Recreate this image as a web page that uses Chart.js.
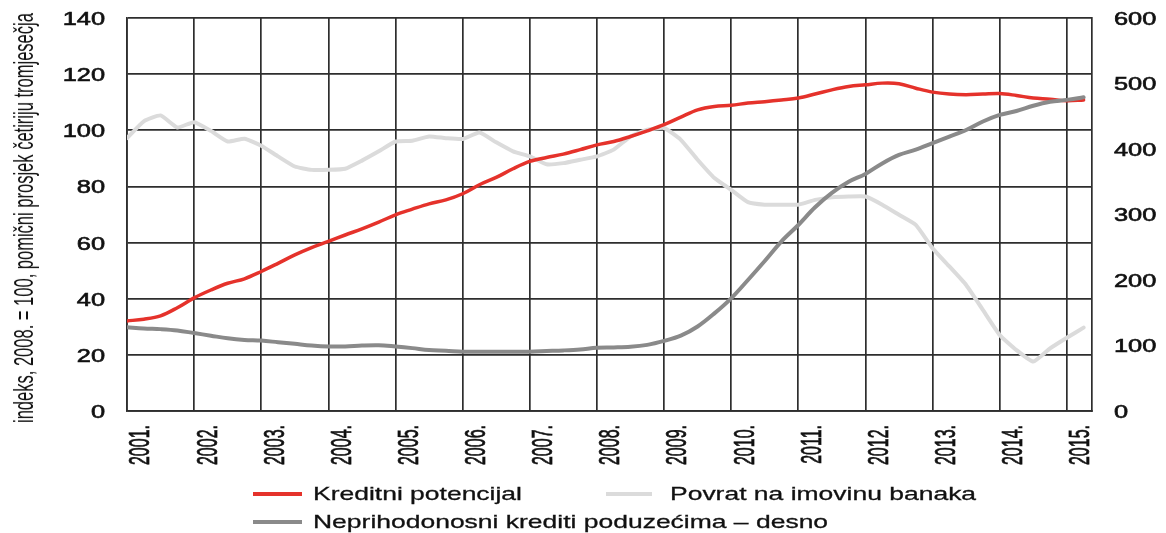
<!DOCTYPE html>
<html lang="hr">
<head>
    <meta charset="UTF-8">
    <title>Kreditni potencijal</title>
    <script src="https://cdn.jsdelivr.net/npm/chart.js"></script>
    <style>
        body {
            margin: 0;
            background: #fff;
        }
        #wrap {
            position: relative;
            width: 1166px;
            height: 533px;
        }
        #ytitle {
            position: absolute;
            left: 25px;
            top: 218px;
            white-space: nowrap;
            font-family: "Liberation Sans", Arial, sans-serif;
            font-size: 17px;
            line-height: 20px;
            color: #111;
        }
        .swatch {
            position: absolute;
            height: 4px;
        }
        .label {
            position: absolute;
            white-space: nowrap;
            font-family: "Liberation Sans", Arial, sans-serif;
            font-size: 19px;
            line-height: 22px;
            color: #111;
            -webkit-text-stroke: 0.3px #111;
            transform-origin: left center;
        }
    </style>
</head>
<body>
<div id="wrap">
    <canvas id="chart" width="1166" height="533"></canvas>
    <div id="ytitle"></div>
</div>

<script>
    // quarterly data, 2001 Q1 .. 2015 Q2
    const firstYear = 2001;

    const kreditniPotencijal = [
        32.1, 32.7, 33.9, 36.8,
        40.3, 43.1, 45.5, 47.1,
        49.7, 52.6, 55.6, 58.2,
        60.4, 62.7, 64.9, 67.3,
        69.9, 71.9, 73.8, 75.2,
        77.4, 80.6, 83.2, 86.3,
        88.9, 90.3, 91.5, 93.1,
        94.8, 96.0, 97.8, 99.8,
        102.0, 104.7, 107.3, 108.5,
        108.9, 109.7, 110.2, 110.8,
        111.5, 112.9, 114.4, 115.6,
        116.2, 116.8, 116.6, 115.0,
        113.6, 112.9, 112.7, 112.9,
        113.1, 112.4, 111.5, 111.1,
        110.5, 110.8
    ];

    const povratNaImovinu = [
        97.2, 103.2, 105.3, 101.0,
        102.9, 99.8, 96.0, 97.0,
        94.5, 90.7, 87.1, 85.9,
        85.9, 86.3, 89.2, 92.5,
        96.0, 96.3, 97.8, 97.2,
        96.9, 99.2, 95.7, 92.5,
        90.7, 87.9, 88.3, 89.5,
        90.7, 93.1, 97.8, 100.2,
        100.8, 96.6, 89.5, 83.0,
        78.8, 74.4, 73.5, 73.5,
        73.5, 75.2, 76.1, 76.4,
        76.4, 73.5, 69.9, 66.3,
        58.0, 51.5, 44.9, 36.0,
        27.1, 21.7, 17.6, 22.3,
        26.1, 29.7
    ];

    const neprihodonosni = [
        128, 126, 125, 123,
        119, 115, 111, 108.5,
        107.5, 105, 102.5, 100,
        98.5, 98.5, 100, 100.5,
        98.5, 96, 93, 92,
        90.5, 90.5, 90.5, 90.5,
        90.5, 91.5, 92.5, 94,
        96.5, 97, 98, 101,
        107, 115, 129, 149,
        172, 200, 229, 259,
        284, 311, 333, 350,
        362, 378, 391, 399,
        409, 419, 429, 442,
        452, 458, 466, 472,
        475, 479
    ];

    const yTitle = 'indeks, 2008. = 100, pomični prosjek četiriju tromjesečja';
    const labels = ['Kreditni potencijal', 'Povrat na imovinu banaka', 'Neprihodonosni krediti poduzećima – desno'];
    const colors = ['#e5322b', '#dbdbdb', '#8a8a8a'];

    const toPoints = arr => arr.map((v, i) => ({ x: firstYear + i / 4, y: v }));

    const gridColor = '#2e2e2e';

    // the original has wide, stretched tick digits, so the labels are drawn
    // from the scales' own ticks with a horizontal stretch
    function stretchedText(ctx, text) {
        ctx.fillText(text, 0, 0);
        ctx.strokeText(text, 0, 0);
    }

    const stretchedTicks = {
        id: 'stretchedTicks',
        afterDraw(chart) {
            const ctx = chart.ctx;
            const { x, y, y1 } = chart.scales;
            ctx.save();
            ctx.fillStyle = '#111';
            ctx.strokeStyle = '#111';
            ctx.lineWidth = 0.6;
            ctx.textBaseline = 'middle';
            ctx.font = "18px 'Liberation Sans', Arial, sans-serif";
            [[y, 'right', y.right - 22], [y1, 'left', y1.left + 22]].forEach(([s, align, px]) => {
                ctx.textAlign = align;
                s.ticks.forEach(t => {
                    ctx.save();
                    ctx.translate(px, s.getPixelForValue(t.value) + 2);
                    ctx.scale(1.41, 1);
                    stretchedText(ctx, String(t.value));
                    ctx.restore();
                });
            });
            ctx.font = "16px 'Liberation Sans', Arial, sans-serif";
            ctx.textAlign = 'right';
            ctx.lineWidth = 0.4;
            x.ticks.forEach(t => {
                ctx.save();
                ctx.translate(x.getPixelForValue(t.value) + 14, x.top + 14);
                ctx.rotate(-Math.PI / 2);
                ctx.scale(1, 1.9);
                stretchedText(ctx, t.value + '.');
                ctx.restore();
            });
            ctx.restore();
        }
    };

    new Chart(document.getElementById('chart'), {
        type: 'line',
        data: {
            datasets: [
                {
                    label: labels[0],
                    data: toPoints(kreditniPotencijal),
                    borderColor: colors[0],
                    borderWidth: 3.5,
                    tension: 0.35,
                    yAxisID: 'y',
                    order: 2
                },
                {
                    label: labels[1],
                    data: toPoints(povratNaImovinu),
                    borderColor: colors[1],
                    borderWidth: 4,
                    tension: 0.15,
                    yAxisID: 'y',
                    order: 3
                },
                {
                    label: labels[2],
                    data: toPoints(neprihodonosni),
                    borderColor: colors[2],
                    borderWidth: 4,
                    tension: 0.35,
                    yAxisID: 'y1',
                    order: 1
                }
            ]
        },
        options: {
            responsive: false,
            animation: false,
            elements: {
                point: { radius: 0 },
                line: { borderCapStyle: 'round', borderJoinStyle: 'round' }
            },
            layout: { padding: { top: 18, left: 0, right: 0, bottom: 0 } },
            plugins: {
                legend: { display: false },
                tooltip: { enabled: false }
            },
            scales: {
                x: {
                    type: 'linear',
                    min: 2001,
                    max: 2015.375,
                    afterFit: s => { s.height = 122; },
                    ticks: { stepSize: 1, includeBounds: false, autoSkip: false, display: false },
                    grid: { color: gridColor, lineWidth: 1.7, drawTicks: false },
                    border: { color: gridColor, width: 1.7 }
                },
                y: {
                    position: 'left',
                    min: 0,
                    max: 140,
                    afterFit: s => { s.width = 127; },
                    ticks: { stepSize: 20, display: false },
                    grid: { color: gridColor, lineWidth: 1.7, drawTicks: false },
                    border: { color: gridColor, width: 1.7 }
                },
                y1: {
                    position: 'right',
                    min: 0,
                    max: 600,
                    afterFit: s => { s.width = 74; },
                    ticks: { stepSize: 100, display: false },
                    grid: { drawOnChartArea: false, drawTicks: false },
                    border: { color: gridColor, width: 1.7 }
                }
            }
        },
        plugins: [stretchedTicks]
    });

    // left axis title
    const yt = document.getElementById('ytitle');
    yt.textContent = yTitle;
    const sx = 410 / yt.offsetWidth;
    yt.style.transform = 'translate(-50%, -50%) rotate(-90deg) scale(' + sx + ', 1.6)';

    // legend below the chart, two rows like the original
    const legendPos = [
        { line: 253, width: 49, text: 313, y: 494 },
        { line: 606, width: 46, text: 670, y: 494 },
        { line: 253, width: 49, text: 313, y: 522 }
    ];
    const wrap = document.getElementById('wrap');
    let legendScale = 1;
    labels.forEach((label, i) => {
        const p = legendPos[i];
        const sw = document.createElement('div');
        sw.className = 'swatch';
        sw.style.background = colors[i];
        sw.style.left = p.line + 'px';
        sw.style.width = p.width + 'px';
        sw.style.top = (p.y - 2) + 'px';
        wrap.appendChild(sw);

        const tx = document.createElement('div');
        tx.className = 'label';
        tx.textContent = label;
        tx.style.left = p.text + 'px';
        tx.style.top = (p.y - 11) + 'px';
        wrap.appendChild(tx);
        if (i === 0) legendScale = 209 / tx.offsetWidth;
        tx.style.transform = 'scaleX(' + legendScale + ')';
    });
</script>
</body>
</html>
